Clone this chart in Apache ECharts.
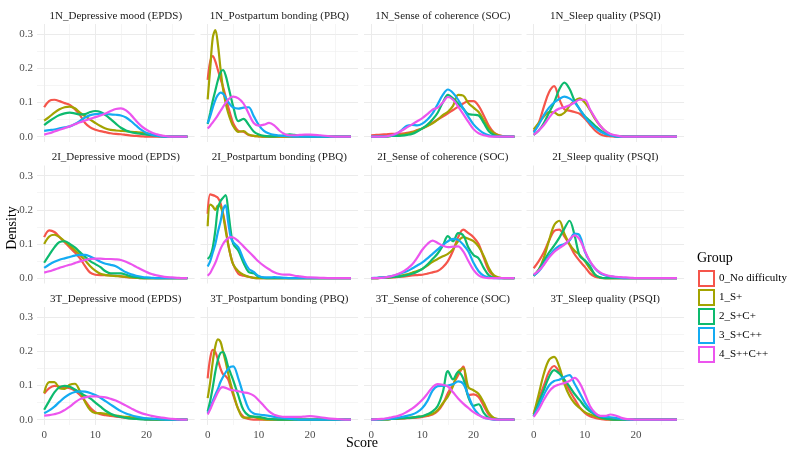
<!DOCTYPE html>
<html>
<head>
<meta charset="utf-8">
<script src="https://cdn.jsdelivr.net/npm/echarts@6/dist/echarts.min.js"></script>
<style>
  html, body { margin: 0; padding: 0; background: #fff; }
  #chart { width: 800px; height: 460px; }
</style>
</head>
<body>
<div id="chart"></div>
<script>
// legend order; every panel array below lists the groups in this order
const GROUPS = ['0_No difficulty', '1_S+', '2_S+C+', '3_S+C++', '4_S++C++'];
const COLORS = ['#F5554B', '#A3A300', '#0DBA6E', '#14ABF2', '#EC55EE'];

const TIMES = ['1N', '2I', '3T'];
const MEASURES = ['Depressive mood (EPDS)', 'Postpartum bonding (PBQ)', 'Sense of coherence (SOC)', 'Sleep quality (PSQI)'];

const X_TICKS = [0, 10, 20];
const X_MINOR = [5, 15, 25];
const Y_TICKS = [0, 0.1, 0.2, 0.3];
const Y_MINOR = [0.05, 0.15, 0.25];

// score grid the densities are read at
const SCORE = [0, 1, 2, 3, 4, 5, 6, 7, 8, 9, 10, 11, 12, 13, 14, 15, 16, 17, 18, 19, 20, 21, 22, 23, 24, 25, 26, 27, 28];
// PBQ peaks are narrow, so read it finer near 0
const SCORE_PBQ = [0, 0.5, 1, 1.5, 2, 2.5, 3, 3.5, 4, 4.5, 5, 6, 7, 8, 9, 10, 11, 12, 13, 14, 15, 16, 17, 18, 19, 20, 22, 24, 26, 28];

// ---- 1N ----
const EPDS_1N = [
  [0.086, 0.105, 0.108, 0.104, 0.098, 0.093, 0.08, 0.063, 0.04, 0.027, 0.02, 0.016, 0.013, 0.01, 0.008, 0.007, 0.005, 0.003, 0.002, 0.001, 0, 0, 0, 0, 0, 0, 0, 0, 0],
  [0.047, 0.058, 0.07, 0.08, 0.086, 0.088, 0.083, 0.07, 0.06, 0.05, 0.04, 0.031, 0.024, 0.02, 0.018, 0.017, 0.016, 0.014, 0.013, 0.012, 0.01, 0.007, 0.004, 0.002, 0, 0, 0, 0, 0],
  [0.034, 0.045, 0.055, 0.063, 0.068, 0.07, 0.068, 0.065, 0.066, 0.072, 0.075, 0.072, 0.063, 0.051, 0.038, 0.026, 0.018, 0.013, 0.01, 0.008, 0.006, 0.004, 0.002, 0.001, 0, 0, 0, 0, 0],
  [0.017, 0.019, 0.021, 0.024, 0.027, 0.03, 0.037, 0.046, 0.056, 0.063, 0.066, 0.067, 0.066, 0.065, 0.064, 0.062, 0.056, 0.045, 0.032, 0.02, 0.011, 0.006, 0.003, 0.001, 0, 0, 0, 0, 0],
  [0.006, 0.01, 0.015, 0.02, 0.025, 0.03, 0.036, 0.042, 0.047, 0.052, 0.057, 0.062, 0.068, 0.075, 0.081, 0.083, 0.077, 0.063, 0.046, 0.031, 0.02, 0.012, 0.007, 0.003, 0.001, 0, 0, 0, 0]
];
const PBQ_1N = [
  [0.166, 0.22, 0.236, 0.22, 0.195, 0.17, 0.146, 0.118, 0.088, 0.062, 0.039, 0.017, 0.014, 0.005, 0.002, 0.001, 0, 0, 0, 0, 0, 0, 0, 0, 0, 0, 0, 0, 0, 0],
  [0.109, 0.2, 0.29, 0.312, 0.27, 0.2, 0.14, 0.1, 0.07, 0.048, 0.031, 0.014, 0.016, 0.006, 0.002, 0.001, 0, 0, 0, 0, 0, 0, 0, 0, 0, 0, 0, 0, 0, 0],
  [0.037, 0.07, 0.105, 0.135, 0.165, 0.188, 0.195, 0.18, 0.15, 0.118, 0.088, 0.045, 0.052, 0.035, 0.015, 0.006, 0.002, 0.001, 0.001, 0.002, 0.004, 0.007, 0.005, 0.002, 0.001, 0, 0, 0, 0, 0],
  [0.039, 0.06, 0.085, 0.107, 0.122, 0.129, 0.126, 0.115, 0.102, 0.092, 0.085, 0.082, 0.085, 0.086, 0.06, 0.034, 0.017, 0.009, 0.005, 0.003, 0.002, 0.001, 0, 0, 0, 0, 0, 0, 0, 0],
  [0.024, 0.032, 0.042, 0.052, 0.063, 0.075, 0.087, 0.098, 0.108, 0.115, 0.117, 0.112, 0.097, 0.068, 0.04, 0.032, 0.035, 0.04, 0.033, 0.018, 0.008, 0.004, 0.004, 0.005, 0.006, 0.006, 0.004, 0.001, 0, 0]
];
const SOC_1N = [
  [0.004, 0.005, 0.006, 0.007, 0.008, 0.008, 0.009, 0.011, 0.014, 0.019, 0.024, 0.032, 0.041, 0.05, 0.059, 0.068, 0.078, 0.088, 0.097, 0.104, 0.104, 0.09, 0.062, 0.032, 0.012, 0.004, 0.001, 0, 0],
  [0, 0, 0.001, 0.001, 0.002, 0.003, 0.005, 0.008, 0.012, 0.018, 0.024, 0.031, 0.039, 0.05, 0.063, 0.073, 0.09, 0.122, 0.12, 0.098, 0.085, 0.072, 0.048, 0.024, 0.01, 0.003, 0.001, 0, 0],
  [0, 0, 0.001, 0.001, 0.002, 0.002, 0.003, 0.005, 0.008, 0.015, 0.024, 0.035, 0.05, 0.07, 0.1, 0.122, 0.112, 0.097, 0.082, 0.066, 0.064, 0.062, 0.04, 0.016, 0.005, 0.001, 0, 0, 0],
  [0, 0, 0, 0.001, 0.003, 0.008, 0.02, 0.032, 0.034, 0.033, 0.038, 0.05, 0.068, 0.095, 0.122, 0.138, 0.128, 0.108, 0.082, 0.058, 0.036, 0.021, 0.01, 0.004, 0.001, 0, 0, 0, 0],
  [0, 0, 0, 0.001, 0.004, 0.01, 0.018, 0.027, 0.036, 0.045, 0.054, 0.066, 0.079, 0.085, 0.1, 0.116, 0.108, 0.088, 0.066, 0.043, 0.022, 0.01, 0.004, 0.001, 0, 0, 0, 0, 0]
];
const PSQI_1N = [
  [0.015, 0.04, 0.088, 0.13, 0.148, 0.11, 0.08, 0.076, 0.072, 0.067, 0.053, 0.035, 0.018, 0.007, 0.002, 0.001, 0, 0, 0, 0, 0, 0, 0, 0, 0, 0, 0, 0, 0],
  [0.021, 0.04, 0.059, 0.072, 0.071, 0.063, 0.07, 0.09, 0.105, 0.112, 0.1, 0.078, 0.052, 0.032, 0.016, 0.007, 0.002, 0.001, 0, 0, 0, 0, 0, 0, 0, 0, 0, 0, 0],
  [0.005, 0.018, 0.04, 0.07, 0.1, 0.138, 0.158, 0.14, 0.105, 0.08, 0.06, 0.046, 0.032, 0.019, 0.009, 0.004, 0.001, 0, 0, 0, 0, 0, 0, 0, 0, 0, 0, 0, 0],
  [0.012, 0.035, 0.063, 0.085, 0.1, 0.11, 0.117, 0.112, 0.1, 0.08, 0.058, 0.04, 0.026, 0.015, 0.008, 0.004, 0.001, 0, 0, 0, 0, 0, 0, 0, 0, 0, 0, 0, 0],
  [0.005, 0.018, 0.034, 0.055, 0.073, 0.082, 0.086, 0.092, 0.1, 0.108, 0.108, 0.08, 0.055, 0.032, 0.017, 0.008, 0.004, 0.001, 0, 0, 0, 0, 0, 0, 0, 0, 0, 0, 0]
];

// ---- 2I ----
const EPDS_2I = [
  [0.12, 0.14, 0.135, 0.12, 0.105, 0.09, 0.075, 0.058, 0.035, 0.016, 0.01, 0.009, 0.009, 0.008, 0.007, 0.005, 0.003, 0.002, 0.001, 0, 0, 0, 0, 0, 0, 0, 0, 0, 0],
  [0.1, 0.122, 0.127, 0.12, 0.108, 0.095, 0.082, 0.068, 0.052, 0.035, 0.022, 0.013, 0.009, 0.007, 0.006, 0.005, 0.004, 0.002, 0.001, 0, 0, 0, 0, 0, 0, 0, 0, 0, 0],
  [0.045, 0.068, 0.09, 0.106, 0.108, 0.1, 0.09, 0.076, 0.062, 0.05, 0.041, 0.032, 0.02, 0.014, 0.014, 0.014, 0.01, 0.005, 0.003, 0.001, 0, 0, 0, 0, 0, 0, 0, 0, 0],
  [0.03, 0.04, 0.048, 0.054, 0.058, 0.062, 0.066, 0.068, 0.068, 0.063, 0.056, 0.048, 0.042, 0.039, 0.035, 0.026, 0.017, 0.011, 0.007, 0.004, 0.002, 0.001, 0, 0, 0, 0, 0, 0, 0],
  [0.016, 0.02, 0.025, 0.03, 0.035, 0.039, 0.044, 0.049, 0.053, 0.056, 0.057, 0.057, 0.056, 0.056, 0.055, 0.053, 0.048, 0.041, 0.033, 0.025, 0.018, 0.012, 0.008, 0.005, 0.003, 0.002, 0.001, 0, 0]
];
const PBQ_2I = [
  [0.188, 0.245, 0.243, 0.24, 0.235, 0.22, 0.19, 0.15, 0.1, 0.065, 0.04, 0.013, 0.007, 0.004, 0.001, 0, 0, 0, 0, 0, 0, 0, 0, 0, 0, 0, 0, 0, 0, 0],
  [0.152, 0.215, 0.21, 0.2, 0.212, 0.21, 0.185, 0.14, 0.1, 0.065, 0.04, 0.02, 0.01, 0.004, 0.001, 0, 0, 0, 0, 0, 0, 0, 0, 0, 0, 0, 0, 0, 0, 0],
  [0.056, 0.065, 0.09, 0.14, 0.205, 0.225, 0.235, 0.243, 0.2, 0.14, 0.1, 0.08, 0.045, 0.018, 0.014, 0.004, 0.001, 0, 0, 0, 0, 0, 0, 0, 0, 0, 0, 0, 0, 0],
  [0.034, 0.05, 0.075, 0.1, 0.135, 0.165, 0.2, 0.213, 0.165, 0.12, 0.105, 0.09, 0.055, 0.028, 0.018, 0.006, 0.002, 0.002, 0.003, 0.002, 0.001, 0, 0, 0, 0, 0, 0, 0, 0, 0],
  [0.007, 0.015, 0.03, 0.045, 0.065, 0.085, 0.1, 0.11, 0.117, 0.12, 0.119, 0.108, 0.093, 0.078, 0.063, 0.048, 0.036, 0.026, 0.017, 0.012, 0.01, 0.01, 0.007, 0.005, 0.003, 0.002, 0.001, 0, 0, 0]
];
const SOC_2I = [
  [0, 0, 0.001, 0.001, 0.002, 0.003, 0.004, 0.006, 0.008, 0.009, 0.01, 0.013, 0.017, 0.021, 0.032, 0.05, 0.08, 0.12, 0.142, 0.132, 0.12, 0.1, 0.06, 0.022, 0.006, 0.001, 0, 0, 0],
  [0, 0, 0.001, 0.002, 0.003, 0.005, 0.008, 0.011, 0.016, 0.021, 0.027, 0.037, 0.048, 0.056, 0.064, 0.071, 0.085, 0.108, 0.12, 0.115, 0.108, 0.092, 0.065, 0.03, 0.008, 0.002, 0, 0, 0],
  [0, 0, 0.001, 0.002, 0.003, 0.004, 0.006, 0.009, 0.013, 0.019, 0.027, 0.04, 0.056, 0.072, 0.095, 0.123, 0.108, 0.132, 0.125, 0.09, 0.068, 0.058, 0.03, 0.008, 0.001, 0, 0, 0, 0],
  [0, 0.001, 0.002, 0.003, 0.006, 0.01, 0.015, 0.02, 0.028, 0.037, 0.046, 0.058, 0.071, 0.084, 0.097, 0.108, 0.115, 0.112, 0.098, 0.078, 0.045, 0.02, 0.007, 0.002, 0, 0, 0, 0, 0],
  [0, 0, 0.001, 0.003, 0.006, 0.011, 0.017, 0.027, 0.04, 0.06, 0.083, 0.1, 0.11, 0.103, 0.095, 0.091, 0.092, 0.093, 0.078, 0.05, 0.024, 0.008, 0.002, 0, 0, 0, 0, 0, 0]
];
const PSQI_2I = [
  [0.029, 0.05, 0.076, 0.11, 0.138, 0.142, 0.122, 0.098, 0.07, 0.05, 0.033, 0.014, 0.004, 0.001, 0, 0, 0, 0, 0, 0, 0, 0, 0, 0, 0, 0, 0, 0, 0],
  [0.007, 0.025, 0.06, 0.11, 0.155, 0.168, 0.13, 0.1, 0.08, 0.068, 0.05, 0.028, 0.01, 0.002, 0, 0, 0, 0, 0, 0, 0, 0, 0, 0, 0, 0, 0, 0, 0],
  [0.007, 0.025, 0.05, 0.075, 0.095, 0.118, 0.145, 0.168, 0.125, 0.065, 0.052, 0.035, 0.01, 0.002, 0, 0, 0, 0, 0, 0, 0, 0, 0, 0, 0, 0, 0, 0, 0],
  [0.007, 0.02, 0.041, 0.064, 0.082, 0.094, 0.1, 0.11, 0.13, 0.125, 0.078, 0.048, 0.028, 0.014, 0.008, 0.005, 0.003, 0.001, 0, 0, 0, 0, 0, 0, 0, 0, 0, 0, 0],
  [0.01, 0.022, 0.039, 0.06, 0.077, 0.088, 0.098, 0.113, 0.125, 0.113, 0.08, 0.05, 0.029, 0.017, 0.01, 0.006, 0.004, 0.003, 0.002, 0.001, 0, 0, 0, 0, 0, 0, 0, 0, 0]
];

// ---- 3T ----
const EPDS_3T = [
  [0.076, 0.092, 0.099, 0.097, 0.094, 0.092, 0.085, 0.072, 0.055, 0.035, 0.022, 0.016, 0.013, 0.011, 0.009, 0.007, 0.005, 0.004, 0.003, 0.002, 0.001, 0, 0, 0, 0, 0, 0, 0, 0],
  [0.078, 0.11, 0.11, 0.092, 0.09, 0.102, 0.105, 0.083, 0.052, 0.028, 0.019, 0.019, 0.017, 0.014, 0.012, 0.01, 0.008, 0.007, 0.006, 0.004, 0.003, 0.002, 0.001, 0, 0, 0, 0, 0, 0],
  [0.029, 0.055, 0.08, 0.095, 0.099, 0.096, 0.088, 0.079, 0.07, 0.062, 0.05, 0.038, 0.026, 0.017, 0.011, 0.008, 0.005, 0.003, 0.002, 0.001, 0, 0, 0, 0, 0, 0, 0, 0, 0],
  [0.019, 0.027, 0.038, 0.052, 0.065, 0.075, 0.081, 0.083, 0.082, 0.078, 0.072, 0.064, 0.054, 0.044, 0.034, 0.025, 0.018, 0.013, 0.009, 0.006, 0.004, 0.003, 0.002, 0.001, 0, 0, 0, 0, 0],
  [0.012, 0.013, 0.016, 0.02, 0.028, 0.038, 0.05, 0.06, 0.065, 0.068, 0.068, 0.067, 0.065, 0.061, 0.056, 0.049, 0.041, 0.033, 0.025, 0.019, 0.015, 0.011, 0.008, 0.006, 0.004, 0.002, 0.001, 0, 0]
];
const PBQ_3T = [
  [0.121, 0.18, 0.204, 0.198, 0.175, 0.15, 0.133, 0.128, 0.118, 0.095, 0.072, 0.03, 0.008, 0.002, 0, 0, 0, 0, 0, 0, 0, 0, 0, 0, 0, 0, 0, 0, 0, 0],
  [0.063, 0.11, 0.17, 0.215, 0.235, 0.228, 0.2, 0.17, 0.136, 0.105, 0.078, 0.03, 0.006, 0.006, 0.008, 0.003, 0.001, 0, 0, 0, 0, 0, 0, 0, 0, 0, 0, 0, 0, 0],
  [0.024, 0.055, 0.095, 0.14, 0.175, 0.195, 0.198, 0.182, 0.155, 0.135, 0.115, 0.07, 0.028, 0.012, 0.009, 0.008, 0.005, 0.002, 0.001, 0, 0, 0, 0, 0, 0, 0, 0, 0, 0, 0],
  [0.019, 0.035, 0.055, 0.073, 0.09, 0.11, 0.125, 0.138, 0.148, 0.155, 0.156, 0.12, 0.072, 0.032, 0.018, 0.015, 0.013, 0.011, 0.008, 0.006, 0.004, 0.002, 0.001, 0, 0, 0, 0, 0, 0, 0],
  [0.015, 0.03, 0.048, 0.064, 0.08, 0.092, 0.095, 0.093, 0.09, 0.087, 0.086, 0.083, 0.08, 0.077, 0.07, 0.056, 0.04, 0.024, 0.014, 0.01, 0.008, 0.008, 0.008, 0.008, 0.009, 0.01, 0.007, 0.003, 0.001, 0]
];
const SOC_3T = [
  [0, 0, 0.001, 0.001, 0.002, 0.002, 0.003, 0.004, 0.005, 0.006, 0.008, 0.011, 0.015, 0.025, 0.045, 0.078, 0.103, 0.13, 0.155, 0.072, 0.074, 0.066, 0.04, 0.014, 0.003, 0.001, 0, 0, 0],
  [0, 0, 0.001, 0.001, 0.002, 0.003, 0.004, 0.005, 0.006, 0.008, 0.01, 0.013, 0.017, 0.028, 0.048, 0.068, 0.098, 0.14, 0.15, 0.095, 0.086, 0.075, 0.05, 0.02, 0.005, 0.001, 0, 0, 0],
  [0, 0, 0.001, 0.001, 0.002, 0.003, 0.004, 0.005, 0.006, 0.008, 0.01, 0.016, 0.024, 0.04, 0.08, 0.142, 0.118, 0.14, 0.12, 0.065, 0.04, 0.045, 0.02, 0.005, 0.001, 0, 0, 0, 0],
  [0, 0, 0.001, 0.002, 0.003, 0.005, 0.008, 0.011, 0.015, 0.022, 0.034, 0.055, 0.085, 0.098, 0.099, 0.1, 0.104, 0.112, 0.105, 0.07, 0.035, 0.016, 0.006, 0.002, 0, 0, 0, 0, 0],
  [0, 0.001, 0.002, 0.004, 0.007, 0.01, 0.015, 0.023, 0.032, 0.044, 0.058, 0.076, 0.095, 0.104, 0.102, 0.097, 0.08, 0.062, 0.047, 0.034, 0.022, 0.013, 0.006, 0.003, 0.001, 0, 0, 0, 0]
];
const PSQI_3T = [
  [0.017, 0.06, 0.1, 0.14, 0.157, 0.14, 0.115, 0.085, 0.06, 0.036, 0.02, 0.01, 0.005, 0.002, 0, 0, 0, 0, 0, 0, 0, 0, 0, 0, 0, 0, 0, 0, 0],
  [0.015, 0.075, 0.135, 0.175, 0.184, 0.155, 0.105, 0.07, 0.048, 0.034, 0.022, 0.015, 0.01, 0.005, 0.002, 0.001, 0, 0, 0, 0, 0, 0, 0, 0, 0, 0, 0, 0, 0],
  [0.01, 0.05, 0.087, 0.125, 0.145, 0.135, 0.117, 0.097, 0.075, 0.057, 0.038, 0.024, 0.015, 0.007, 0.003, 0.001, 0, 0, 0, 0, 0, 0, 0, 0, 0, 0, 0, 0, 0],
  [0.01, 0.04, 0.073, 0.1, 0.113, 0.117, 0.125, 0.13, 0.105, 0.078, 0.05, 0.03, 0.017, 0.01, 0.008, 0.007, 0.005, 0.002, 0.001, 0, 0, 0, 0, 0, 0, 0, 0, 0, 0],
  [0.008, 0.03, 0.058, 0.082, 0.097, 0.103, 0.107, 0.113, 0.122, 0.107, 0.075, 0.04, 0.02, 0.011, 0.011, 0.015, 0.012, 0.006, 0.002, 0.001, 0, 0, 0, 0, 0, 0, 0, 0, 0]
];

const PANELS = [
  [EPDS_1N, PBQ_1N, SOC_1N, PSQI_1N],
  [EPDS_2I, PBQ_2I, SOC_2I, PSQI_2I],
  [EPDS_3T, PBQ_3T, SOC_3T, PSQI_3T]
];
const PANEL_X = [SCORE, SCORE_PBQ, SCORE, SCORE];

// layout (px) of the facet panels
const FONT = 'Liberation Serif';
const COL_LEFT = [37, 200.5, 364, 526.5];
const ROW_TOP = [24, 165.5, 307];
const PW = 157.6, PH = 118;
const X_MIN = -1.4, X_MAX = 29.4;
const Y_MIN = -0.0157, Y_MAX = 0.3297;

const chart = echarts.init(document.getElementById('chart'));

const grid = [], xMajor = [], xMinor = [], yMajor = [], yMinor = [], series = [], graphic = [];

function axisPair(kind, k, show, ticks, minor) {
  const base = {
    type: 'value',
    gridIndex: k,
    min: kind === 'x' ? X_MIN : Y_MIN,
    max: kind === 'x' ? X_MAX : Y_MAX,
    axisLine: { show: false },
    silent: true
  };
  const major = Object.assign({}, base, {
    axisTick: { show: false, customValues: ticks },
    axisLabel: {
      show: show,
      customValues: ticks,
      color: '#4D4D4D',
      fontFamily: FONT,
      fontSize: 11,
      margin: kind === 'x' ? 5 : 4,
      formatter: kind === 'x' ? '{value}' : v => v.toFixed(1)
    },
    splitLine: { show: true, lineStyle: { color: '#EBEBEB', width: 1 } }
  });
  const min = Object.assign({}, base, {
    axisTick: { show: false, customValues: minor },
    axisLabel: { show: false, customValues: minor },
    splitLine: { show: true, lineStyle: { color: '#EFEFEF', width: 0.6 } }
  });
  return [major, min];
}

let k = 0;
TIMES.forEach((t, r) => {
  MEASURES.forEach((m, c) => {
    grid.push({ left: COL_LEFT[c], top: ROW_TOP[r], width: PW, height: PH });

    const [xa, xb] = axisPair('x', k, r === TIMES.length - 1, X_TICKS, X_MINOR);
    const [ya, yb] = axisPair('y', k, c === 0, Y_TICKS, Y_MINOR);
    xMajor.push(xa); xMinor.push(xb);
    yMajor.push(ya); yMinor.push(yb);

    // strip label
    graphic.push({
      type: 'text',
      x: COL_LEFT[c] + PW / 2,
      y: ROW_TOP[r] - 8,
      style: {
        text: t + '_' + m, font: '11px ' + FONT, fill: '#1A1A1A',
        textAlign: 'center', textVerticalAlign: 'middle'
      }
    });

    const xs = PANEL_X[c];
    PANELS[r][c].forEach((ys, g) => {
      series.push({
        type: 'line',
        name: GROUPS[g],
        xAxisIndex: k,
        yAxisIndex: k,
        data: xs.map((x, i) => [x, ys[i]]),
        showSymbol: false,
        smooth: 0.35,
        silent: true,
        lineStyle: { width: 2.2, color: COLORS[g] },
        itemStyle: { color: COLORS[g] }
      });
    });
    k++;
  });
});

graphic.push(
  {
    type: 'text', x: 12, y: 228, rotation: Math.PI / 2,
    style: { text: 'Density', font: '14px ' + FONT, fill: '#000', textAlign: 'center', textVerticalAlign: 'middle' }
  },
  {
    type: 'text', x: 362, y: 443,
    style: { text: 'Score', font: '14px ' + FONT, fill: '#000', textAlign: 'center', textVerticalAlign: 'middle' }
  },
  {
    type: 'text', x: 697, y: 258,
    style: { text: 'Group', font: '14px ' + FONT, fill: '#000', textAlign: 'left', textVerticalAlign: 'middle' }
  }
);

chart.setOption({
  animation: false,
  backgroundColor: '#fff',
  grid: grid,
  xAxis: xMajor.concat(xMinor),
  yAxis: yMajor.concat(yMinor),
  legend: {
    orient: 'vertical',
    left: 698,
    top: 270,
    padding: 0,
    itemWidth: 15,
    itemHeight: 15,
    itemGap: 2,
    textStyle: { fontFamily: FONT, fontSize: 11, color: '#000', lineHeight: 15 },
    data: GROUPS.map((g, i) => ({
      name: g,
      icon: 'rect',
      itemStyle: { color: '#fff', borderColor: COLORS[i], borderWidth: 2 }
    }))
  },
  graphic: graphic,
  series: series
});
</script>
</body>
</html>
